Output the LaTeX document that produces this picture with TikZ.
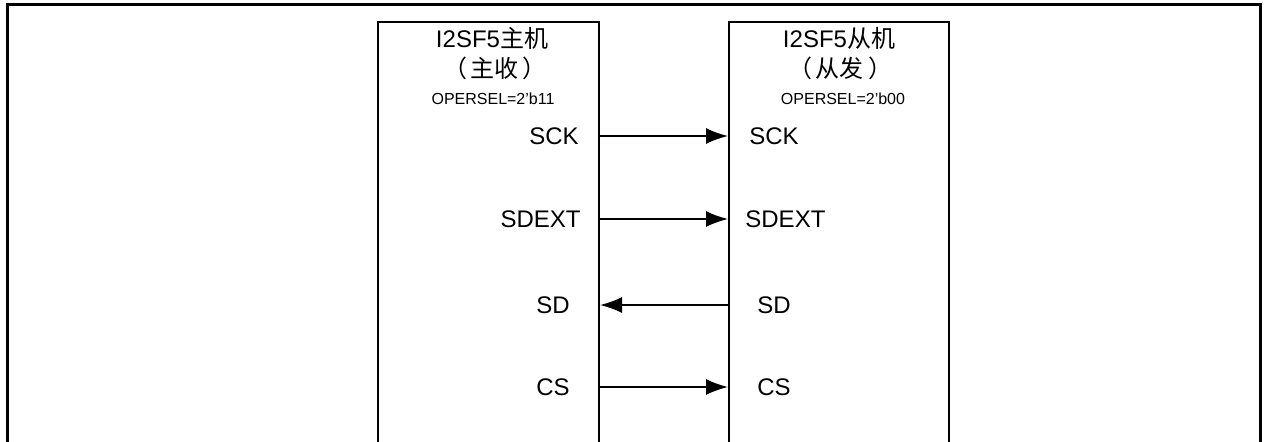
\documentclass[tikz,border=0pt]{standalone}
\usepackage{fontspec}
\setmainfont{Liberation Sans}
\newfontfamily\cjk{Noto Sans CJK SC}
\usetikzlibrary{arrows.meta,positioning}

\begin{document}
\begin{tikzpicture}[
  x=0.5pt, y=-0.5pt,
  chip/.style={draw, line width=1pt, rectangle, anchor=north west, inner sep=0pt},
  sig/.style={font=\fontsize{12}{14}\selectfont, inner sep=0pt},
  title/.style={font=\fontsize{12}{14}\selectfont, inner sep=0pt},
  mode/.style={font=\fontsize{8}{9}\selectfont, inner sep=0pt},
  wire/.style={line width=0.8pt, -{Latex[length=11pt,width=8pt]}}
]
  \useasboundingbox (0,0) rectangle (1267,441);
  \clip (0,0) rectangle (1267,441);
  % outer frame
  \draw[line width=1.5pt] (7,460) -- (7,4) -- (1260,4) -- (1260,460);
  % the two chips
  \node[chip, minimum width=110.5pt, minimum height=220pt] (master) at (377,21) {};
  \node[chip, minimum width=110pt, minimum height=220pt] (slave) at (728,21) {};
  \node[title] (mtitle) at (492,38) {I2SF5{\cjk 主机}};
  \node[title] (mrole) at (495,68) {\cjk （\hspace{2pt}主收\hspace{2pt}）};
  \node[mode] (mmode) at (493,99) {OPERSEL=2'b11};
  \node[title] (stitle) at (839,38) {I2SF5{\cjk 从机}};
  \node[title] (srole) at (840,68) {\cjk （\hspace{2pt}从发\hspace{2pt}）};
  \node[mode] (smode) at (843,99) {OPERSEL=2'b00};
  % signal names
  \node[sig, anchor=east] (msck) at (579,136) {SCK};
  \node[sig, anchor=east] (msdext) at (581,219) {SDEXT};
  \node[sig, anchor=east] (msd) at (570,305) {SD};
  \node[sig, anchor=east] (mcs) at (570,387) {CS};
  \node[sig, anchor=west] (ssck) at (749,136) {SCK};
  \node[sig, anchor=west] (ssdext) at (745,219) {SDEXT};
  \node[sig, anchor=west] (ssd) at (757,305) {SD};
  \node[sig, anchor=west] (scs) at (757,387) {CS};
  % lines between the chips
  \draw[wire] (master.east |- msck) -- (slave.west |- ssck);
  \draw[wire] (master.east |- msdext) -- (slave.west |- ssdext);
  \draw[wire] (slave.west |- ssd) -- (master.east |- msd);
  \draw[wire] (master.east |- mcs) -- (slave.west |- scs);
\end{tikzpicture}
\end{document}
